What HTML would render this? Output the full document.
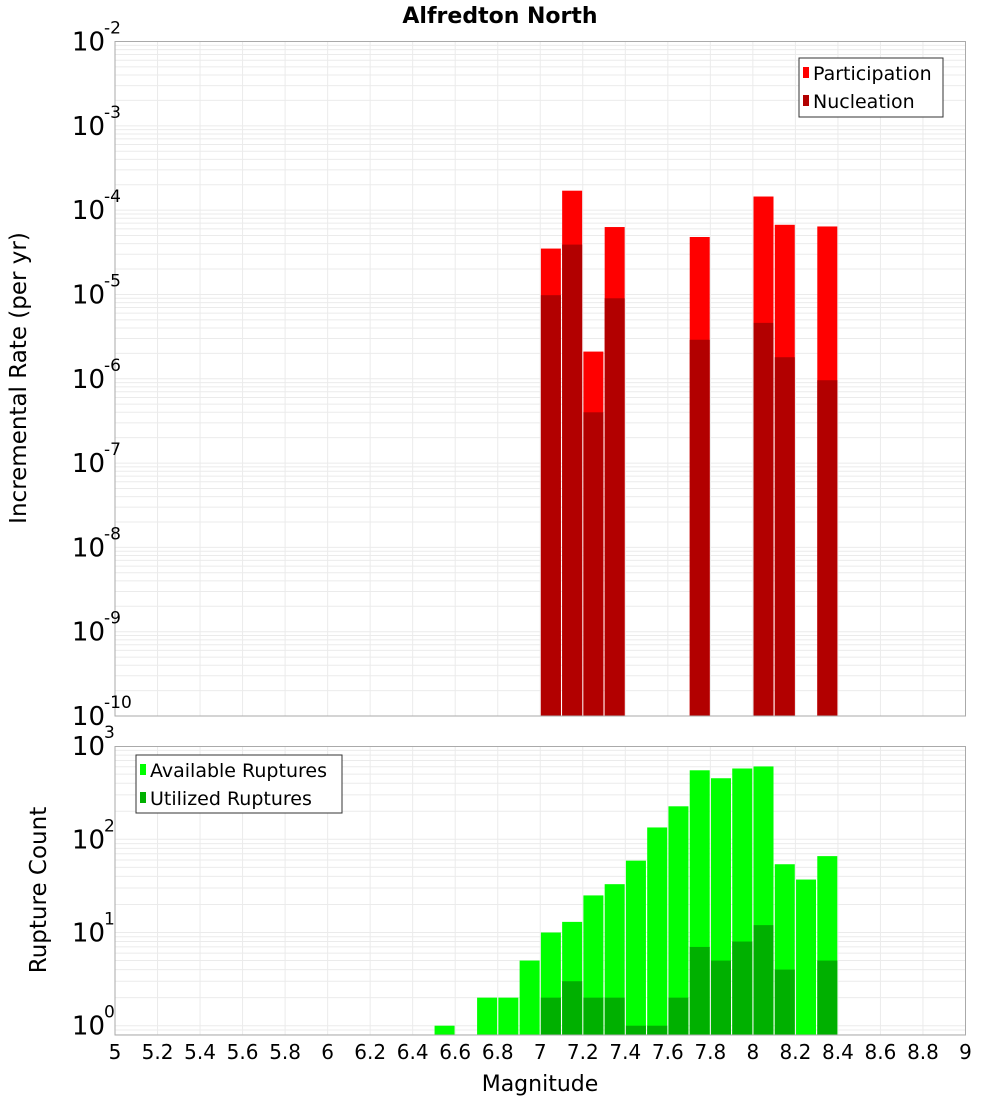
<!DOCTYPE html>
<html><head><meta charset="utf-8"><style>
body{margin:0;background:#fff;}
svg{display:block;font-family:"DejaVu Sans","Liberation Sans",sans-serif;}
</style></head><body>
<svg id="c" width="1000" height="1100" xmlns="http://www.w3.org/2000/svg">
<text x="500" y="23" text-anchor="middle" font-size="22" font-weight="bold">Alfredton North</text>
<g id="top"></g><g id="bot"></g>
<text transform="translate(26,378) rotate(-90)" text-anchor="middle" font-size="23">Incremental Rate (per yr)</text>
<text transform="translate(46,890) rotate(-90)" text-anchor="middle" font-size="23">Rupture Count</text>
<text x="540" y="1091" text-anchor="middle" font-size="22">Magnitude</text>
</svg>
<script>
const rateMags=[7.05,7.15,7.25,7.35,7.75,8.05,8.15,8.35];
const participation=[3.5e-5,1.7e-4,2.1e-6,6.3e-5,4.8e-5,1.45e-4,6.7e-5,6.4e-5];
const nucleation=[9.8e-6,3.9e-5,4e-7,9e-6,2.9e-6,4.6e-6,1.8e-6,9.6e-7];
const countMags=[6.55,6.75,6.85,6.95,7.05,7.15,7.25,7.35,7.45,7.55,7.65,7.75,7.85,7.95,8.05,8.15,8.25,8.35];
const available=[1,2,2,5,10,13,25,33,59,134,226,550,452,575,605,54,37,66];
const utilized=[0,0,0,0,2,3,2,2,1,1,2,7,5,8,12,4,0,5];
const xTicks=[5,5.2,5.4,5.6,5.8,6,6.2,6.4,6.6,6.8,7,7.2,7.4,7.6,7.8,8,8.2,8.4,8.6,8.8,9];
const topDecades=[-10,-9,-8,-7,-6,-5,-4,-3,-2];
const botDecades=[0,1,2,3];
const NS='http://www.w3.org/2000/svg';
const X0=115,X1=965.5;
const xs=m=>X0+(m-5)/4*(X1-X0);
function mk(p,t,a){const e=document.createElementNS(NS,t);for(const k in a)e.setAttribute(k,a[k]);p.appendChild(e);return e;}
const topY=v=>716-(Math.log10(v)+10)*(716-41.5)/8;
const botY=v=>1025.7-Math.log10(v)*93.2;
function grid(g,yf,lo,hi,yTop,yBot){
  for(let d=lo;d<hi;d++)for(let k=1;k<10;k++){const y=yf(k*Math.pow(10,d));if(y<yTop||y>yBot)continue;
    const l=mk(g,'line',{x1:X0,x2:X1,y1:y,y2:y,stroke:'#ebebeb','stroke-width':1});
    
    }
  xTicks.forEach(t=>{const l=mk(g,'line',{x1:xs(t),x2:xs(t),y1:yTop,y2:yBot,stroke:'#ebebeb','stroke-width':1});
    
    });
}
function ylab(g,y,exp){
  const t=mk(g,'text',{x:105,y:y+9,'text-anchor':'end','font-size':26});t.textContent='10';
  
  
  const s=mk(g,'text',{x:104,y:y-8,'font-size':17});s.textContent=String(exp).replace('-','-');
  
  
}
function bar(g,m,v,yf,base,fill,name){
  if(!v)return;const y=yf(v);const x=xs(m)-10;
  const r=mk(g,'rect',{x:x,y:y,width:20,height:base-y,fill:fill});
  
  
}
// top
const gt=document.getElementById('top');
grid(gt,topY,-10,-2,41.5,716);
rateMags.forEach((m,i)=>{bar(gt,m,participation[i],topY,716,'#ff0000','participation-bar');bar(gt,m,nucleation[i],topY,716,'#b20000','nucleation-bar');});
let f=mk(gt,'rect',{x:X0,y:41.5,width:X1-X0,height:674.5,fill:'none',stroke:'#aaa'});

topDecades.forEach(d=>ylab(gt,topY(Math.pow(10,d)),d));
// legend top
let lg=mk(gt,'g',{});
mk(lg,'rect',{x:799,y:58,width:144,height:59,fill:'#fff',stroke:'#333'});
mk(lg,'rect',{x:803,y:67,width:6,height:11,fill:'#ff0000'});
mk(lg,'rect',{x:803,y:95,width:6,height:11,fill:'#b20000'});
let t=mk(lg,'text',{x:813,y:80,'font-size':19});t.textContent='Participation';

t=mk(lg,'text',{x:813,y:108,'font-size':19});t.textContent='Nucleation';

// bottom
const gb=document.getElementById('bot');
grid(gb,botY,-1,3,746.5,1035);
countMags.forEach((m,i)=>{bar(gb,m,available[i],botY,1035,'#00ff00','available-bar');bar(gb,m,utilized[i],botY,1035,'#00b000','utilized-bar');});
f=mk(gb,'rect',{x:X0,y:746.5,width:X1-X0,height:288.5,fill:'none',stroke:'#aaa'});

botDecades.forEach(d=>ylab(gb,botY(Math.pow(10,d)),d));
lg=mk(gb,'g',{});
mk(lg,'rect',{x:136,y:755,width:206,height:58,fill:'#fff',stroke:'#333'});
mk(lg,'rect',{x:140,y:764,width:6,height:11,fill:'#00ff00'});
mk(lg,'rect',{x:140,y:792,width:6,height:11,fill:'#00b000'});
t=mk(lg,'text',{x:150,y:777,'font-size':19});t.textContent='Available Ruptures';

t=mk(lg,'text',{x:150,y:805,'font-size':19});t.textContent='Utilized Ruptures';

xTicks.forEach(v=>{const e=mk(gb,'text',{x:xs(v),y:1059,'text-anchor':'middle','font-size':20});e.textContent=String(v);
  
  });
</script>
</body></html>
